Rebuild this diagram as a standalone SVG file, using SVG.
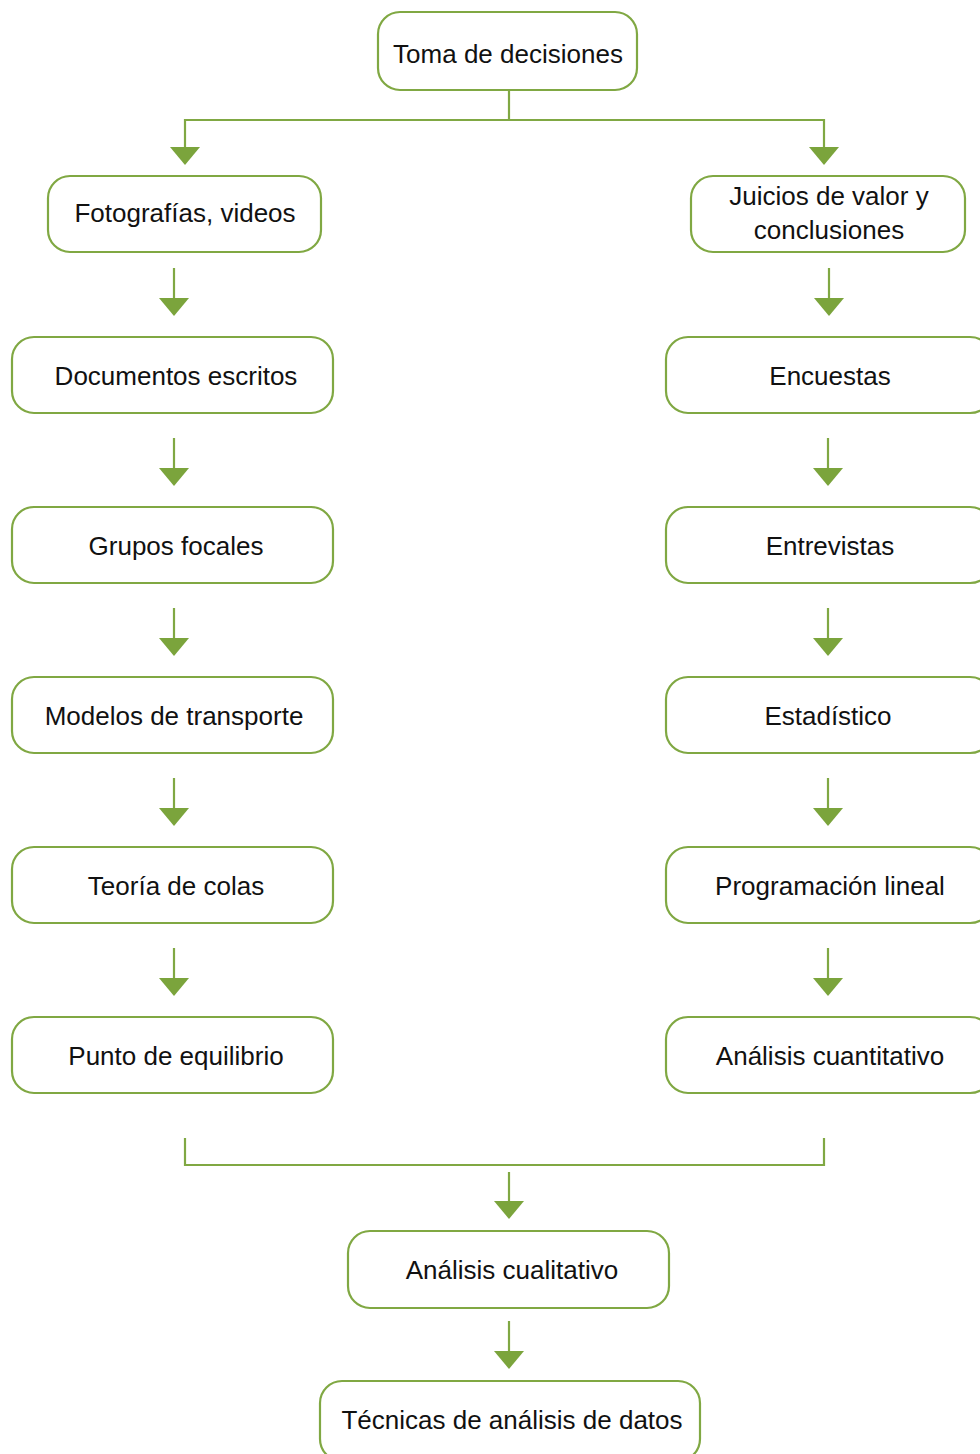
<svg xmlns="http://www.w3.org/2000/svg" width="980" height="1454" viewBox="0 0 980 1454">
<defs>
<style>
.box{fill:#ffffff;stroke:#80a843;stroke-width:2.2}
.lbl{font-family:"Liberation Sans","Open Sans",sans-serif;font-size:26px;fill:#111111;text-anchor:middle}
.ln{fill:none;stroke:#80a843;stroke-width:2.2}
.ah{fill:#7ba43c}
</style>
</defs>
<rect width="980" height="1454" fill="#ffffff"/>
<g id="connectors">
<path class="ln" d="M509 90 V120 M185 148 V120 H824 V148"/>
<polygon class="ah" points="170,147 200,147 185,165"/>
<polygon class="ah" points="809,147 839,147 824,165"/>
<path class="ln" d="M174 268 V299 M174 438 V469 M174 608 V639 M174 778 V809 M174 948 V979"/>
<polygon class="ah" points="159,298 189,298 174,316"/>
<polygon class="ah" points="159,468 189,468 174,486"/>
<polygon class="ah" points="159,638 189,638 174,656"/>
<polygon class="ah" points="159,808 189,808 174,826"/>
<polygon class="ah" points="159,978 189,978 174,996"/>
<path class="ln" d="M829 268 V299 M828 438 V469 M828 608 V639 M828 778 V809 M828 948 V979"/>
<polygon class="ah" points="814,298 844,298 829,316"/>
<polygon class="ah" points="813,468 843,468 828,486"/>
<polygon class="ah" points="813,638 843,638 828,656"/>
<polygon class="ah" points="813,808 843,808 828,826"/>
<polygon class="ah" points="813,978 843,978 828,996"/>
<path class="ln" d="M185 1138 V1165 H824 V1138"/>
<path class="ln" d="M509 1172 V1202 M509 1321 V1352"/>
<polygon class="ah" points="494,1201 524,1201 509,1219"/>
<polygon class="ah" points="494,1351 524,1351 509,1369"/>
</g>
<g id="n-toma"><rect class="box" x="378" y="12" width="259" height="78" rx="22"/><text class="lbl" x="508" y="63">Toma de decisiones</text></g>
<g id="n-foto"><rect class="box" x="48" y="176" width="273" height="76" rx="22"/><text class="lbl" x="185" y="222">Fotografías, videos</text></g>
<g id="n-juicios"><rect class="box" x="691" y="176" width="274" height="76" rx="22"/><text class="lbl" x="829" y="205">Juicios de valor y</text><text class="lbl" x="829" y="239">conclusiones</text></g>
<g id="n-docs"><rect class="box" x="12" y="337" width="321" height="76" rx="22"/><text class="lbl" x="176" y="385">Documentos escritos</text></g>
<g id="n-encuestas"><rect class="box" x="666" y="337" width="326" height="76" rx="22"/><text class="lbl" x="830" y="385">Encuestas</text></g>
<g id="n-grupos"><rect class="box" x="12" y="507" width="321" height="76" rx="22"/><text class="lbl" x="176" y="555">Grupos focales</text></g>
<g id="n-entrevistas"><rect class="box" x="666" y="507" width="326" height="76" rx="22"/><text class="lbl" x="830" y="555">Entrevistas</text></g>
<g id="n-modelos"><rect class="box" x="12" y="677" width="321" height="76" rx="22"/><text class="lbl" x="174" y="725">Modelos de transporte</text></g>
<g id="n-estadistico"><rect class="box" x="666" y="677" width="326" height="76" rx="22"/><text class="lbl" x="828" y="725">Estadístico</text></g>
<g id="n-teoria"><rect class="box" x="12" y="847" width="321" height="76" rx="22"/><text class="lbl" x="176" y="895">Teoría de colas</text></g>
<g id="n-programacion"><rect class="box" x="666" y="847" width="326" height="76" rx="22"/><text class="lbl" x="830" y="895">Programación lineal</text></g>
<g id="n-punto"><rect class="box" x="12" y="1017" width="321" height="76" rx="22"/><text class="lbl" x="176" y="1065">Punto de equilibrio</text></g>
<g id="n-cuantitativo"><rect class="box" x="666" y="1017" width="326" height="76" rx="22"/><text class="lbl" x="830" y="1065">Análisis cuantitativo</text></g>
<g id="n-cualitativo"><rect class="box" x="348" y="1231" width="321" height="77" rx="22"/><text class="lbl" x="512" y="1279">Análisis cualitativo</text></g>
<g id="n-tecnicas"><rect class="box" x="320" y="1381" width="380" height="80" rx="22"/><text class="lbl" x="512" y="1429">Técnicas de análisis de datos</text></g>
</svg>
